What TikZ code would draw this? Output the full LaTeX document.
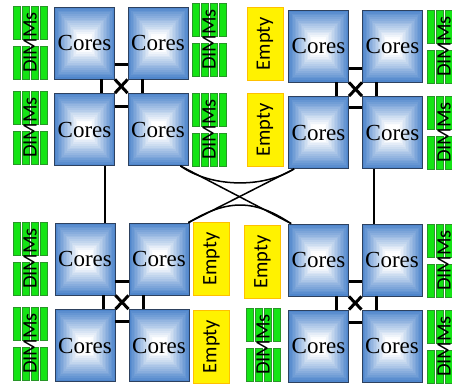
\documentclass[tikz,border=0pt]{standalone}
\usepackage{fontspec}
\setmainfont{Liberation Serif}
\newfontfamily\calib{Carlito}
\usetikzlibrary{calc}
\definecolor{coreblue}{RGB}{79,134,204}
\definecolor{coreedge}{RGB}{45,65,95}
\definecolor{dimmfill}{RGB}{20,228,20}
\definecolor{dimmedge}{RGB}{40,150,40}
\definecolor{emptyedge}{RGB}{255,192,0}
\tikzset{
  core/.style={draw=coreedge, line width=0.8pt, minimum width=60pt, minimum height=72pt,
    inner sep=0pt, font=\fontsize{23}{23}\selectfont,
    path picture={
      \foreach \i in {0,...,19}{
        \pgfmathsetmacro\f{\i/20}
        \pgfmathsetmacro\pc{max(0,100-6.5*\i)}
        \fill[coreblue!\pc!white]
          ($(path picture bounding box.south west)!\f!(path picture bounding box.center)$)
          rectangle
          ($(path picture bounding box.north east)!\f!(path picture bounding box.center)$);
      }}},
  emptybox/.style={draw=emptyedge, line width=0.8pt, fill=yellow, minimum width=36pt,
    minimum height=73pt, inner sep=0pt, font=\calib\fontsize{20.5}{20.5}\selectfont},
  dimmbar/.style={draw=dimmedge, line width=0.6pt, fill=dimmfill},
  dimmlabel/.style={inner sep=0pt, font=\calib\fontsize{20.5}{20.5}\selectfont},
  bus/.style={line width=3pt},
  link/.style={line width=2pt},
  cross/.style={line width=1.5pt},
}
\newcommand\dimmstack[3]{%
  \foreach \g in {0,40}{\foreach \b in {0,...,3}{%
    \draw[dimmbar] (#2+\b*9,#3+\g) rectangle +(7,33);}}
  \node[dimmlabel] (#1) at (#2+17,#3+36.5) {\rotatebox{90}{DIMMs}};
}
\begin{document}
\begin{tikzpicture}[x=1pt,y=-1pt]
\useasboundingbox (0,0) rectangle (452,384);
\clip (0,0) rectangle (452,384);

% DIMM stacks
\dimmstack{d1}{13}{6}
\dimmstack{d2}{13}{91}
\dimmstack{d3}{192}{3}
\dimmstack{d4}{192}{93}
\dimmstack{d5}{427}{10}
\dimmstack{d6}{427}{96}
\dimmstack{d7}{13}{222}
\dimmstack{d8}{13}{307}
\dimmstack{d9}{246}{308}
\dimmstack{d10}{427}{224}
\dimmstack{d11}{427}{310}

% Empty slots
\node[emptybox] (e1) at (265,43.5) {\rotatebox{90}{Empty}};
\node[emptybox] (e2) at (265,130) {\rotatebox{90}{Empty}};
\node[emptybox] (e3) at (211.5,259) {\rotatebox{90}{Empty}};
\node[emptybox] (e4) at (211.5,346.5) {\rotatebox{90}{Empty}};
\node[emptybox] (e5) at (262.5,262) {\rotatebox{90}{Empty}};

% Cores
\node[core] (A) at (84.5,43) {Cores};
\node[core] (B) at (158,43) {Cores};
\node[core] (C) at (84.5,129.5) {Cores};
\node[core] (D) at (158,129.5) {Cores};
\node[core] (E) at (318.5,46) {Cores};
\node[core] (F) at (392.5,46) {Cores};
\node[core] (G) at (318.5,132.5) {Cores};
\node[core] (H) at (392.5,132.5) {Cores};
\node[core] (I) at (85,259) {Cores};
\node[core] (J) at (159,259) {Cores};
\node[core] (K) at (85,345.5) {Cores};
\node[core] (L) at (159,345.5) {Cores};
\node[core] (M) at (318.5,260) {Cores};
\node[core] (N) at (392,260) {Cores};
\node[core] (O) at (318.5,346) {Cores};
\node[core] (P) at (392,346) {Cores};

% top-left quad
\draw[bus] ([yshift=-21pt]A.east) -- ([yshift=-21pt]B.west);
\draw[bus] ([yshift=23.5pt]C.east) -- ([yshift=23.5pt]D.west);
\draw[bus] ([xshift=16.5pt]A.south) -- ([xshift=16.5pt]C.north);
\draw[bus] ([xshift=-16pt]B.south) -- ([xshift=-16pt]D.north);
\draw[bus] (A.south east) -- (D.north west);
\draw[bus] (B.south west) -- (C.north east);
% top-right quad
\draw[bus] ([yshift=-22pt]E.east) -- ([yshift=-22pt]F.west);
\draw[bus] ([yshift=25.5pt]G.east) -- ([yshift=25.5pt]H.west);
\draw[bus] ([xshift=17.5pt]E.south) -- ([xshift=17.5pt]G.north);
\draw[bus] ([xshift=-16.5pt]F.south) -- ([xshift=-16.5pt]H.north);
\draw[bus] (E.south east) -- (H.north west);
\draw[bus] (F.south west) -- (G.north east);
% bottom-left quad
\draw[bus] ([yshift=-22pt]I.east) -- ([yshift=-22pt]J.west);
\draw[bus] ([yshift=24.5pt]K.east) -- ([yshift=24.5pt]L.west);
\draw[bus] ([xshift=18pt]I.south) -- ([xshift=18pt]K.north);
\draw[bus] ([xshift=-16pt]J.south) -- ([xshift=-16pt]L.north);
\draw[bus] (I.south east) -- (L.north west);
\draw[bus] (J.south west) -- (K.north east);
% bottom-right quad
\draw[bus] ([yshift=-21pt]M.east) -- ([yshift=-21pt]N.west);
\draw[bus] ([yshift=24pt]O.east) -- ([yshift=24pt]P.west);
\draw[bus] ([xshift=17.5pt]M.south) -- ([xshift=17.5pt]O.north);
\draw[bus] ([xshift=-16pt]N.south) -- ([xshift=-16pt]P.north);
\draw[bus] (M.south east) -- (P.north west);
\draw[bus] (N.south west) -- (O.north east);

% long links
\draw[link] ([xshift=20.5pt]C.south) -- ([xshift=20pt]I.north);
\draw[link] ([xshift=-18.5pt]H.south) -- ([xshift=-18pt]N.north);

% crossing links
\draw[cross] ([xshift=-8pt]D.south east) .. controls (210,187) and (262,189) .. ([xshift=6pt]G.south west);
\draw[cross] ([xshift=-8pt]D.south east) -- ([xshift=3pt]M.north west);
\draw[cross] ([xshift=6pt]G.south west) -- ([xshift=-1pt]J.north east);
\draw[cross] ([xshift=-1pt]J.north east) .. controls (228,199) and (254,199) .. ([xshift=3pt]M.north west);
\end{tikzpicture}
\end{document}
